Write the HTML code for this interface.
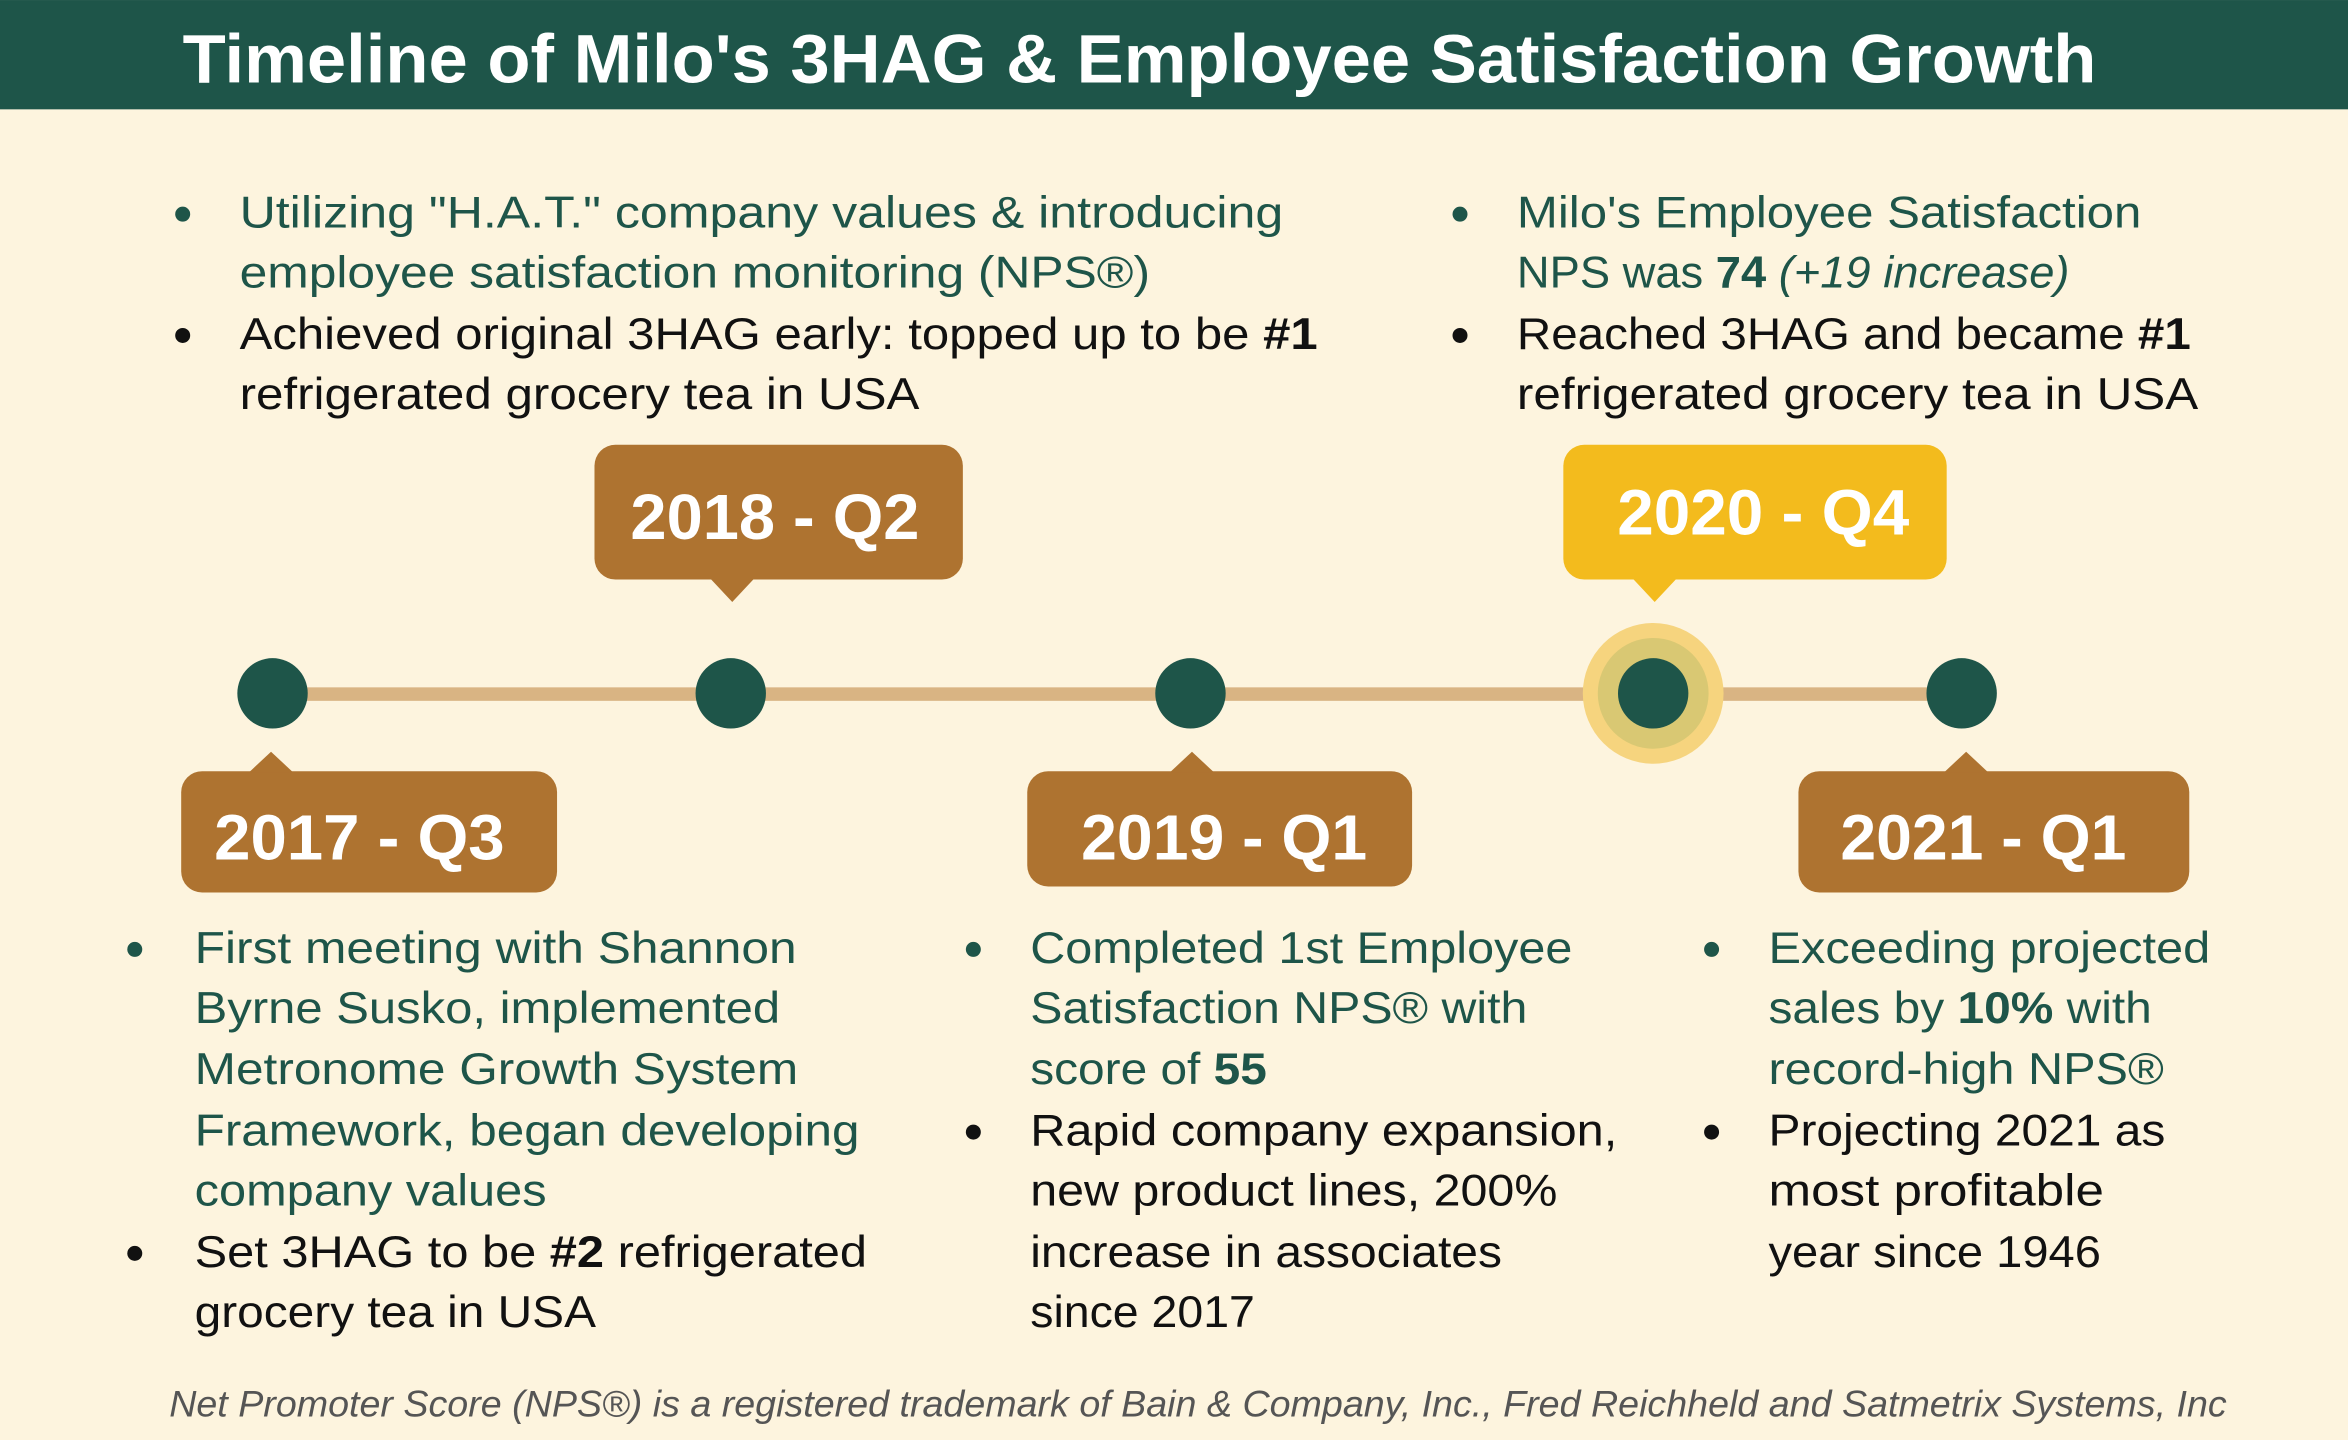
<!DOCTYPE html>
<html><head><meta charset="utf-8"><style>
html,body{margin:0;padding:0;background:#fdf4de;}
svg{display:block}
text{font-family:"Liberation Sans",sans-serif;}
.g{fill:#1e5549}.k{fill:#111}
.t{font-size:30px}
.lab{font-size:43px;font-weight:bold;fill:#fff}
</style></head><body>
<svg width="2348" height="1440" viewBox="0 0 1568 961.6">
<rect x="0" y="0" width="1568" height="961.6" fill="#fdf4de"/>
<rect x="0" y="0" width="1568" height="73" fill="#1e5549"/>
<text x="761" y="55" text-anchor="middle" font-size="46" font-weight="bold" fill="#fff" textLength="1278" lengthAdjust="spacingAndGlyphs">Timeline of Milo's 3HAG &amp; Employee Satisfaction Growth</text>

<rect x="182" y="459" width="1128" height="9" fill="#d9b483"/>
<circle cx="1104" cy="463" r="47" fill="#f6d47e"/>
<circle cx="1104" cy="463" r="37" fill="#d9c873"/>
<g fill="#1e5549">
<circle cx="182" cy="463" r="23.5"/>
<circle cx="488" cy="463" r="23.5"/>
<circle cx="795" cy="463" r="23.5"/>
<circle cx="1104" cy="463" r="23.5"/>
<circle cx="1310" cy="463" r="23.5"/>
</g>

<g>
<rect x="397" y="297" width="246" height="90" rx="14" fill="#ae7330"/>
<polygon points="474,386 504,386 489,402" fill="#ae7330"/>
<text class="lab" x="421" y="360" textLength="193" lengthAdjust="spacingAndGlyphs">2018 - Q2</text></g>
<g>
<rect x="1044" y="297" width="256" height="90" rx="14" fill="#f3bb1d"/>
<polygon points="1090,386 1120,386 1105,402" fill="#f3bb1d"/>
<text class="lab" x="1080" y="357" textLength="195" lengthAdjust="spacingAndGlyphs">2020 - Q4</text></g>
<g>
<rect x="121" y="515" width="251" height="81" rx="14" fill="#ae7330"/>
<polygon points="166,516 196,516 181,502" fill="#ae7330"/>
<text class="lab" x="143" y="574" textLength="194" lengthAdjust="spacingAndGlyphs">2017 - Q3</text></g>
<g>
<rect x="686" y="515" width="257" height="77" rx="14" fill="#ae7330"/>
<polygon points="781,516 811,516 796,502" fill="#ae7330"/>
<text class="lab" x="722" y="574" textLength="191" lengthAdjust="spacingAndGlyphs">2019 - Q1</text></g>
<g>
<rect x="1201" y="515" width="261" height="81" rx="14" fill="#ae7330"/>
<polygon points="1298,516 1328,516 1313,502" fill="#ae7330"/>
<text class="lab" x="1229" y="574" textLength="191" lengthAdjust="spacingAndGlyphs">2021 - Q1</text></g>

<g class="t">
<circle cx="122" cy="143" r="5" class="g"/><circle cx="122" cy="224" r="5" class="k"/>
<text class="g" x="160" y="152" textLength="697" lengthAdjust="spacingAndGlyphs">Utilizing "H.A.T." company values &amp; introducing</text>
<text class="g" x="160" y="192" textLength="608" lengthAdjust="spacingAndGlyphs">employee satisfaction monitoring (NPS®)</text>
<text class="k" x="160" y="233" textLength="720" lengthAdjust="spacingAndGlyphs">Achieved original 3HAG early: topped up to be <tspan font-weight="bold">#1</tspan></text>
<text class="k" x="160" y="273" textLength="454" lengthAdjust="spacingAndGlyphs">refrigerated grocery tea in USA</text>
</g>
<g class="t">
<circle cx="975" cy="143" r="5" class="g"/><circle cx="975" cy="224" r="5" class="k"/>
<text class="g" x="1013" y="152" textLength="417" lengthAdjust="spacingAndGlyphs">Milo's Employee Satisfaction</text>
<text class="g" x="1013" y="192" textLength="369" lengthAdjust="spacingAndGlyphs">NPS was <tspan font-weight="bold">74</tspan> <tspan font-style="italic">(+19 increase)</tspan></text>
<text class="k" x="1013" y="233" textLength="450" lengthAdjust="spacingAndGlyphs">Reached 3HAG and became <tspan font-weight="bold">#1</tspan></text>
<text class="k" x="1013" y="273" textLength="455" lengthAdjust="spacingAndGlyphs">refrigerated grocery tea in USA</text>
</g>
<g class="t">
<circle cx="90" cy="634" r="5" class="g"/><circle cx="90" cy="837" r="5" class="k"/>
<text class="g" x="130" y="643" textLength="402" lengthAdjust="spacingAndGlyphs">First meeting with Shannon</text>
<text class="g" x="130" y="683" textLength="391" lengthAdjust="spacingAndGlyphs">Byrne Susko, implemented</text>
<text class="g" x="130" y="724" textLength="403" lengthAdjust="spacingAndGlyphs">Metronome Growth System</text>
<text class="g" x="130" y="765" textLength="444" lengthAdjust="spacingAndGlyphs">Framework, began developing</text>
<text class="g" x="130" y="805" textLength="235" lengthAdjust="spacingAndGlyphs">company values</text>
<text class="k" x="130" y="846" textLength="449" lengthAdjust="spacingAndGlyphs">Set 3HAG to be <tspan font-weight="bold">#2</tspan> refrigerated</text>
<text class="k" x="130" y="886" textLength="268" lengthAdjust="spacingAndGlyphs">grocery tea in USA</text>
</g>
<g class="t">
<circle cx="650" cy="634" r="5" class="g"/><circle cx="650" cy="756" r="5" class="k"/>
<text class="g" x="688" y="643" textLength="362" lengthAdjust="spacingAndGlyphs">Completed 1st Employee</text>
<text class="g" x="688" y="683" textLength="332" lengthAdjust="spacingAndGlyphs">Satisfaction NPS® with</text>
<text class="g" x="688" y="724" textLength="158" lengthAdjust="spacingAndGlyphs">score of <tspan font-weight="bold">55</tspan></text>
<text class="k" x="688" y="765" textLength="392" lengthAdjust="spacingAndGlyphs">Rapid company expansion,</text>
<text class="k" x="688" y="805" textLength="352" lengthAdjust="spacingAndGlyphs">new product lines, 200%</text>
<text class="k" x="688" y="846" textLength="315" lengthAdjust="spacingAndGlyphs">increase in associates</text>
<text class="k" x="688" y="886" textLength="150" lengthAdjust="spacingAndGlyphs">since 2017</text>
</g>
<g class="t">
<circle cx="1143" cy="634" r="5" class="g"/><circle cx="1143" cy="756" r="5" class="k"/>
<text class="g" x="1181" y="643" textLength="295" lengthAdjust="spacingAndGlyphs">Exceeding projected</text>
<text class="g" x="1181" y="683" textLength="256" lengthAdjust="spacingAndGlyphs">sales by <tspan font-weight="bold">10%</tspan> with</text>
<text class="g" x="1181" y="724" textLength="264" lengthAdjust="spacingAndGlyphs">record-high NPS®</text>
<text class="k" x="1181" y="765" textLength="265" lengthAdjust="spacingAndGlyphs">Projecting 2021 as</text>
<text class="k" x="1181" y="805" textLength="224" lengthAdjust="spacingAndGlyphs">most profitable</text>
<text class="k" x="1181" y="846" textLength="222" lengthAdjust="spacingAndGlyphs">year since 1946</text>
</g>
<text x="113" y="946" font-size="25" font-style="italic" fill="#555" textLength="1374" lengthAdjust="spacingAndGlyphs">Net Promoter Score (NPS®) is a  registered trademark of Bain &amp; Company, Inc., Fred Reichheld and Satmetrix Systems, Inc</text>
</svg>
</body></html>
